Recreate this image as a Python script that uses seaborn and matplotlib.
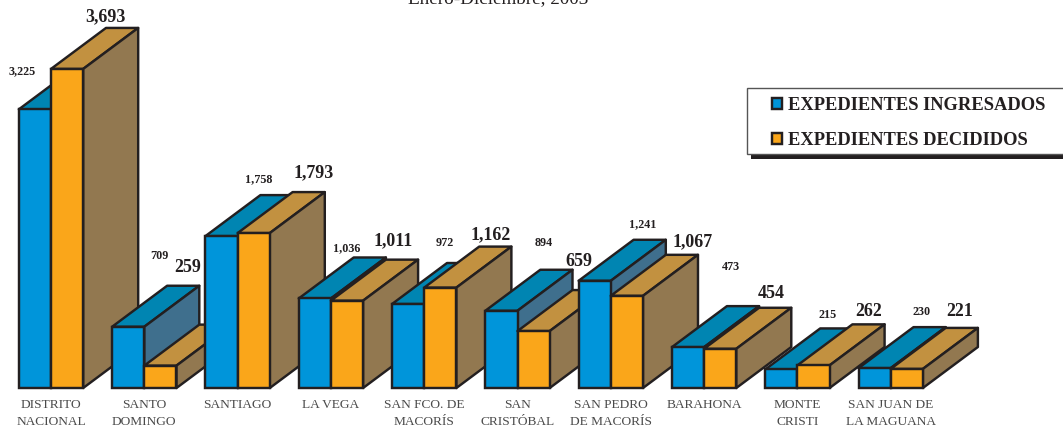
import matplotlib
matplotlib.use("Agg")
import matplotlib.pyplot as plt
from matplotlib.patches import Patch, Polygon, Rectangle
import pandas as pd
import seaborn as sns

categories = ["DISTRITO\nNACIONAL", "SANTO\nDOMINGO", "SANTIAGO", "LA VEGA",
              "SAN FCO. DE\nMACORÍS", "SAN\nCRISTÓBAL", "SAN PEDRO\nDE MACORÍS",
              "BARAHONA", "MONTE\nCRISTI", "SAN JUAN DE\nLA MAGUANA"]
ingresados = [3225, 709, 1758, 1036, 972, 894, 1241, 473, 215, 230]
decididos = [3693, 259, 1793, 1011, 1162, 659, 1067, 454, 262, 221]
series_names = ["EXPEDIENTES INGRESADOS", "EXPEDIENTES DECIDIDOS"]

# hand-placed value label centres, in figure pixels
ingresados_label_px = [(22, 71), (159, 256), (259, 179), (347, 248), (445, 243),
                       (544, 243), (643, 224), (731, 267), (828, 315), (922, 312)]
decididos_label_px = [(105, 17), (188, 268), (314, 173), (393, 241), (491, 235),
                      (579, 261), (693, 242), (771, 293), (869, 311), (960, 311)]

W, H = 1063, 429
BASE_PX = 388
PX_PER_UNIT = 0.0864
STEP_PX = 93.3
X0_PX = 51
DEPTH_X, DEPTH_Y = 55, 41
INK = "#231F20"
LW = 1.75
FRONT = ["#0095DA", "#FAA61A"]
TOP = ["#0085B2", "#C29140"]
SIDE = ["#3F6F8D", "#927850"]

sns.set_theme(style="white")
plt.rcParams["font.family"] = ["Liberation Serif", "DejaVu Serif"]

df = pd.DataFrame({"cat": categories * 2,
                   "serie": [series_names[0]] * 10 + [series_names[1]] * 10,
                   "valor": ingresados + decididos})

fig = plt.figure(figsize=(W / 100, H / 100), dpi=100, facecolor="white")
ax = fig.add_axes([0, (H - BASE_PX) / H, 1, BASE_PX / H])
sns.barplot(data=df, x="cat", y="valor", hue="serie", hue_order=series_names,
            palette=FRONT, order=categories, width=0.69, gap=0, saturation=1,
            edgecolor=INK, linewidth=LW, ax=ax, legend=False, errorbar=None)
ax.set_xlim(-X0_PX / STEP_PX, (W - X0_PX) / STEP_PX)
ax.set_ylim(0, BASE_PX / PX_PER_UNIT)
sns.despine(ax=ax, left=True, bottom=True, top=True, right=True)
ax.set_xlabel("")
ax.set_ylabel("")
ax.set_yticks([])
ax.tick_params(axis="x", length=0, pad=8, labelsize=9.6, labelcolor="#4a4a4a")
for t in ax.get_xticklabels():
    t.set_linespacing(1.52)
    t.set_verticalalignment("top")
ax.patch.set_alpha(0)

dx = DEPTH_X / STEP_PX
dy = DEPTH_Y / PX_PER_UNIT
for s, cont in enumerate(ax.containers):
    for i, bar in enumerate(cont.patches):
        z = 10 + i * 2 + s * 0.5
        bar.set_zorder(z + 0.2)
        bar.set_clip_on(False)
        x0, x1 = bar.get_x(), bar.get_x() + bar.get_width()
        h = bar.get_height()
        top = Polygon([(x0, h), (x0 + dx, h + dy), (x1 + dx, h + dy), (x1, h)],
                      closed=True, facecolor=TOP[s], edgecolor=INK, linewidth=LW,
                      joinstyle="round", zorder=z, clip_on=False)
        side = Polygon([(x1, 0), (x1 + dx, dy), (x1 + dx, h + dy), (x1, h)],
                       closed=True, facecolor=SIDE[s], edgecolor=INK, linewidth=LW,
                       joinstyle="round", zorder=z + 0.1, clip_on=False)
        ax.add_patch(top)
        ax.add_patch(side)

for vals, pos, size in [(ingresados, ingresados_label_px, 8.7),
                        (decididos, decididos_label_px, 12.9)]:
    for v, (px, py) in zip(vals, pos):
        fig.text(px / W, 1 - py / H, f"{v:,}", ha="center", va="center",
                 fontsize=size, fontweight="bold", color=INK, zorder=50)

fig.text(498 / W, 1 - 3 / H, "Enero-Diciembre, 2003", ha="center", va="baseline",
         fontsize=13.8, color=INK)

# legend box and its hard shadow
fig.add_artist(Rectangle((751 / W, 1 - 159 / H), 312 / W, 10 / H, transform=fig.transFigure,
                         facecolor=INK, edgecolor="none", zorder=60))
fig.add_artist(Rectangle((746.5 / W, 1 - 153.5 / H), 330 / W, 65.5 / H, transform=fig.transFigure,
                         facecolor="white", edgecolor="#555555", linewidth=1, zorder=61))
handles = [Patch(facecolor=FRONT[k], edgecolor=INK, linewidth=LW) for k in range(2)]
leg = fig.legend(handles, series_names, loc="upper left",
                 bbox_to_anchor=(770 / W, 1 - 95 / H), bbox_transform=fig.transFigure,
                 frameon=False, prop={"family": "Liberation Serif", "weight": "bold", "size": 13.3},
                 labelcolor=INK, handlelength=0.56, handleheight=0.56, handletextpad=0.33,
                 labelspacing=1.0, borderpad=0.1, borderaxespad=0)
leg.set_zorder(62)

fig.savefig("out.png", dpi=100, facecolor="white")
